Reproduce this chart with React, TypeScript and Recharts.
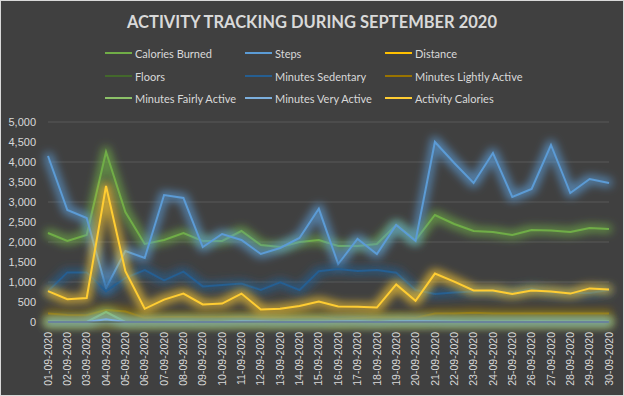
import { CartesianGrid, Line, LineChart, XAxis, YAxis } from "recharts";

const days = [
  "01-09-2020", "02-09-2020", "03-09-2020", "04-09-2020", "05-09-2020", "06-09-2020",
  "07-09-2020", "08-09-2020", "09-09-2020", "10-09-2020", "11-09-2020", "12-09-2020",
  "13-09-2020", "14-09-2020", "15-09-2020", "16-09-2020", "17-09-2020", "18-09-2020",
  "19-09-2020", "20-09-2020", "21-09-2020", "22-09-2020", "23-09-2020", "24-09-2020",
  "25-09-2020", "26-09-2020", "27-09-2020", "28-09-2020", "29-09-2020", "30-09-2020",
];

const caloriesBurned = [2225, 2025, 2175, 4250, 2750, 1950, 2050, 2225, 2025, 2025, 2275, 1925, 1875, 2000, 2050, 1900, 1900, 1950, 2425, 2050, 2675, 2450, 2275, 2250, 2175, 2300, 2290, 2250, 2350, 2325];
const steps = [4150, 2800, 2600, 850, 1775, 1600, 3175, 3100, 1875, 2200, 2050, 1700, 1850, 2100, 2830, 1450, 2075, 1700, 2425, 2025, 4500, 3975, 3475, 4225, 3125, 3325, 4425, 3225, 3575, 3475];
const distance = [3.0, 2.1, 1.9, 0.6, 1.3, 1.2, 2.4, 2.3, 1.4, 1.6, 1.5, 1.3, 1.4, 1.6, 2.1, 1.1, 1.5, 1.3, 1.8, 1.5, 3.4, 3.0, 2.6, 3.2, 2.3, 2.5, 3.3, 2.4, 2.7, 2.6];
const floors = [5, 3, 2, 1, 4, 2, 6, 5, 3, 4, 3, 2, 3, 4, 5, 2, 3, 2, 4, 3, 7, 6, 5, 6, 4, 5, 7, 4, 5, 5];
const minutesSedentary = [770, 1240, 1240, 770, 1100, 1300, 1040, 1260, 890, 925, 960, 800, 990, 800, 1270, 1325, 1275, 1300, 1233, 800, 700, 735, 760, 760, 735, 840, 735, 725, 725, 800];
const minutesLightlyActive = [210, 175, 170, 300, 260, 100, 125, 125, 120, 125, 130, 110, 110, 115, 120, 70, 100, 110, 115, 100, 210, 210, 230, 215, 210, 210, 210, 210, 215, 215];
const minutesFairlyActive = [10, 5, 0, 250, 0, 0, 5, 10, 0, 5, 10, 0, 5, 10, 15, 0, 10, 5, 20, 5, 15, 20, 10, 10, 15, 20, 15, 10, 15, 15];
const minutesVeryActive = [0, 0, 0, 70, 0, 0, 0, 0, 0, 0, 15, 10, 0, 0, 0, 10, 15, 0, 15, 20, 10, 0, 0, 0, 0, 0, 0, 0, 0, 0];
const activityCalories = [770, 570, 600, 3400, 1270, 330, 560, 710, 440, 460, 710, 310, 330, 400, 510, 390, 380, 360, 940, 530, 1210, 1010, 790, 790, 700, 790, 760, 710, 840, 810];

const yTicks = [0, 500, 1000, 1500, 2000, 2500, 3000, 3500, 4000, 4500, 5000];

const series = [
  { key: "calories", name: "Calories Burned", color: "#70AD47", values: caloriesBurned },
  { key: "steps", name: "Steps", color: "#5B9BD5", values: steps },
  { key: "distance", name: "Distance", color: "#FFC000", values: distance },
  { key: "floors", name: "Floors", color: "#43682B", values: floors },
  { key: "sedentary", name: "Minutes Sedentary", color: "#255E91", values: minutesSedentary },
  { key: "lightly", name: "Minutes Lightly Active", color: "#997300", values: minutesLightlyActive },
  { key: "fairly", name: "Minutes Fairly Active", color: "#8CC168", values: minutesFairlyActive },
  { key: "very", name: "Minutes Very Active", color: "#7CAFDD", values: minutesVeryActive },
  { key: "activity", name: "Activity Calories", color: "#FFCD33", values: activityCalories },
];

const data = days.map((day, i) => {
  const row: Record<string, string | number> = { day };
  series.forEach((s) => (row[s.key] = s.values[i]));
  return row;
});

const FONT = "Lato, 'Liberation Sans', sans-serif";
const TEXT = "#D9D9D9";

function DayTick(props: any) {
  const { x, y, payload } = props;
  return (
    <text
      x={x}
      y={y}
      transform={`rotate(-90 ${x} ${y})`}
      textAnchor="end"
      dy="0.35em"
      fill={TEXT}
      fontSize={10.5}
      fontFamily="'Liberation Sans', sans-serif"
    >
      {payload.value}
    </text>
  );
}

export default function App() {
  const legendCols = [105, 245, 385];
  const legendRows = [53, 76, 98];

  return (
    <div style={{ position: "relative", width: 624, height: 396, background: "#404040", fontFamily: FONT }}>
      <style>{"body{margin:0}"}</style>
      <svg width={0} height={0} style={{ position: "absolute" }}>
        <defs>
          <filter id="glow" filterUnits="userSpaceOnUse" x={-50} y={-50} width={724} height={496}>
            <feMorphology in="SourceGraphic" operator="dilate" radius={2.5} result="d" />
            <feGaussianBlur in="d" stdDeviation={4} result="b" />
            <feComponentTransfer in="b" result="g">
              <feFuncA type="linear" slope={0.7} />
            </feComponentTransfer>
            <feMerge>
              <feMergeNode in="g" />
              <feMergeNode in="SourceGraphic" />
            </feMerge>
          </filter>
        </defs>
      </svg>

      <div
        style={{
          position: "absolute",
          top: 12,
          left: 0,
          width: 624,
          textAlign: "center",
          color: TEXT,
          fontWeight: 700,
          fontSize: 16.5,
        }}
      >
        ACTIVITY TRACKING DURING SEPTEMBER 2020
      </div>

      {series.map((s, i) => (
        <div
          key={s.key}
          style={{
            position: "absolute",
            left: legendCols[i % 3],
            top: legendRows[Math.floor(i / 3)] - 8,
            height: 16,
            display: "flex",
            alignItems: "center",
            color: TEXT,
            fontSize: 11,
            whiteSpace: "nowrap",
          }}
        >
          <span style={{ display: "inline-block", width: 27, height: 2, background: s.color, marginRight: 3 }} />
          {s.name}
        </div>
      ))}

      <div style={{ position: "absolute", left: 0, top: 0 }}>
        <LineChart width={624} height={396} data={data} margin={{ top: 122, right: 15, bottom: 0, left: 0 }}>
          <CartesianGrid vertical={false} stroke="#595959" strokeWidth={1} />
          <XAxis
            dataKey="day"
            height={74}
            interval={0}
            tickLine={false}
            axisLine={{ stroke: "#595959" }}
            tickMargin={4}
            tick={<DayTick />}
          />
          <YAxis
            width={48}
            domain={[0, 5000]}
            ticks={yTicks}
            tickLine={false}
            axisLine={false}
            tickMargin={6}
            tick={{ fill: TEXT, fontSize: 11, fontFamily: "'Liberation Sans', sans-serif" }}
            tickFormatter={(v: number) => v.toLocaleString("en-US")}
          />
          {series.map((s) => (
            <Line
              key={s.key}
              type="linear"
              dataKey={s.key}
              name={s.name}
              stroke={s.color}
              strokeWidth={2}
              dot={false}
              activeDot={false}
              filter="url(#glow)"
              isAnimationActive={false}
            />
          ))}
        </LineChart>
      </div>

      <div
        style={{
          position: "absolute",
          inset: 0,
          border: "1px solid #D9D9D9",
          pointerEvents: "none",
        }}
      />
    </div>
  );
}
